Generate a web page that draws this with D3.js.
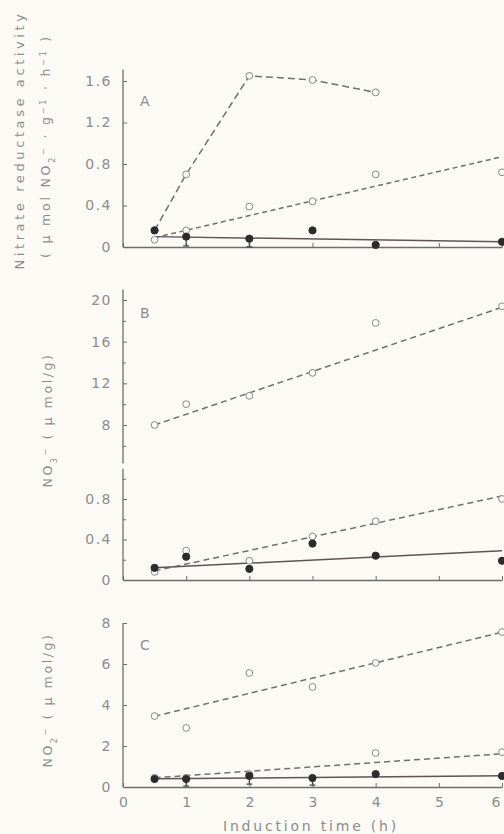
<!DOCTYPE html>
<html>
<head>
<meta charset="utf-8">
<script src="https://cdn.jsdelivr.net/npm/d3@7"></script>
<style>
  html, body { margin: 0; padding: 0; background: #fbfaf5; }
  svg { display: block; }
  text { font-family: "DejaVu Sans", sans-serif; fill: #8d8d8d; }
</style>
</head>
<body>
<div id="chart"></div>
<script>
// ---- data ----
var times = [0.5, 1, 2, 3, 4, 6];
var timesPeak = [0.5, 1, 2, 3, 4];
var fitEnds = [0.5, 6];
var xTicks = [0, 1, 2, 3, 4, 5, 6];

// panel A: nitrate reductase activity
var aPeak = [0.16, 0.70, 1.65, 1.61, 1.49];
var aOpen = [0.07, 0.16, 0.39, 0.44, 0.70, 0.72];
var aOpenFit = [0.09, 0.87];
var aFilled = [0.16, 0.10, 0.08, 0.16, 0.02, 0.05];
var aFilledErr = [0, 0.09, 0.08, 0, 0, 0];
var aFilledFit = [0.10, 0.05];
var aTicks = [0, 0.4, 0.8, 1.2, 1.6];

// panel B: NO3- content (broken axis)
var bHigh = [8.0, 10.0, 10.8, 13.0, 17.8, 19.4];
var bHighFit = [8.0, 19.3];
var bOpen = [0.08, 0.29, 0.19, 0.43, 0.58, 0.80];
var bOpenFit = [0.09, 0.83];
var bFilled = [0.12, 0.23, 0.11, 0.36, 0.24, 0.19];
var bFilledFit = [0.12, 0.29];
var bTicksHigh = [8, 12, 16, 20];
var bMinorHigh = [6, 10, 14, 18];
var bTicksLow = [0, 0.4, 0.8];
var bMinorLow = [0.2, 0.6, 1.0];

// panel C: NO2- content
var cHigh = [3.46, 2.88, 5.56, 4.88, 6.05, 7.56];
var cHighFit = [3.45, 7.55];
var cOpen = [0.45, 0.45, 0.62, null, 1.66, 1.70];
var cOpenFit = [0.45, 1.62];
var cFilled = [0.39, 0.39, 0.54, 0.44, 0.63, 0.54];
var cFilledErr = [0, 0.35, 0.4, 0.35, 0, 0];
var cFilledFit = [0.40, 0.55];
var cTicks = [0, 2, 4, 6, 8];

var W = 504, H = 834;
var lineCol = "#707070", solidCol = "#5e5458", axisCol = "#6e6e6e";

var svg = d3.select("#chart").append("svg")
    .attr("width", W).attr("height", H);
svg.append("rect").attr("width", W).attr("height", H).attr("fill", "#fbfaf5");

var x = d3.scaleLinear().domain([0, 6]).range([123, 502]);

var yA = d3.scaleLinear().domain([0, 1.6]).range([247, 81]);
var yBlow = d3.scaleLinear().domain([0, 0.8]).range([580, 499]);
var yBhigh = d3.scaleLinear().domain([8, 20]).range([425, 300]);
var yC = d3.scaleLinear().domain([0, 8]).range([787, 623]);

function zip(xs, ys) {
  return xs.map(function(t, i){ return {t: t, v: ys[i]}; })
           .filter(function(d){ return d.v != null; });
}

var line = function(y) {
  return d3.line().x(function(d){ return x(d.t); }).y(function(d){ return y(d.v); });
};

function drawLine(g, y, xs, ys, dash, col) {
  g.append("path")
    .datum(zip(xs, ys))
    .attr("d", line(y))
    .attr("fill", "none")
    .attr("stroke", col)
    .attr("stroke-width", 1.5)
    .attr("stroke-dasharray", dash);
}

function drawPoints(g, y, xs, ys, filled) {
  g.selectAll(null)
    .data(zip(xs, ys))
    .enter().append("circle")
    .attr("cx", function(d){ return x(d.t); })
    .attr("cy", function(d){ return y(d.v); })
    .attr("r", filled ? 3.6 : 3.4)
    .attr("fill", filled ? "#2e2b2b" : "#fbfaf5")
    .attr("stroke", filled ? "#2e2b2b" : "#8a8a8a")
    .attr("stroke-width", 1);
}

function drawErr(g, y, xs, ys, errs) {
  var d = xs.map(function(t, i){ return {t: t, v: ys[i], e: errs[i]}; })
            .filter(function(d){ return d.e > 0; });
  g.selectAll(null).data(d).enter().append("path")
    .attr("d", function(d){
      var cx = x(d.t), y0 = y(d.v), y1 = y(d.v - d.e);
      return "M" + cx + "," + y0 + "V" + y1 + "M" + (cx - 3) + "," + y1 + "H" + (cx + 3);
    })
    .attr("stroke", "#4a4a4a").attr("stroke-width", 1.3).attr("fill", "none");
}

function yAxis(g, y, major, minor, fmt, top, bottom) {
  var ax = g.append("g").attr("transform", "translate(" + x(0) + ",0)")
    .call(d3.axisLeft(y).tickValues(major).tickSize(-4).tickPadding(11).tickFormat(fmt));
  ax.select(".domain").remove();
  ax.selectAll("line").attr("stroke", axisCol);
  ax.selectAll("text")
    .style("font-size", "14px").style("letter-spacing", "1.5px")
    .attr("fill", "#8d8d8d");
  if (minor) {
    var mx = g.append("g").attr("transform", "translate(" + x(0) + ",0)")
      .call(d3.axisLeft(y).tickValues(minor).tickSize(-3).tickFormat(""));
    mx.select(".domain").remove();
    mx.selectAll("line").attr("stroke", axisCol);
  }
  g.append("line")
    .attr("x1", x(0)).attr("x2", x(0))
    .attr("y1", y(top)).attr("y2", y(bottom))
    .attr("stroke", axisCol).attr("stroke-width", 1.3);
}

function xAxis(g, y0, labels) {
  var ax = g.append("g").attr("transform", "translate(0," + y0 + ")")
    .call(d3.axisBottom(x).tickValues(xTicks).tickSize(-4).tickSizeOuter(0)
      .tickPadding(10).tickFormat(labels ? d3.format("d") : ""));
  ax.select(".domain").attr("stroke", axisCol).attr("stroke-width", 1.3);
  ax.selectAll("line").attr("stroke", axisCol);
  ax.selectAll("text").style("font-size", "14px").attr("fill", "#999");
  // keep the last label inside the frame
  ax.selectAll(".tick text").filter(function(d){ return d === 6; })
    .attr("text-anchor", "end").attr("dx", "-2");
}

function panelLabel(g, y, v, s) {
  g.append("text").attr("x", x(0.27)).attr("y", y(v))
    .style("font-size", "14px").text(s);
}

// ---- panel A ----
var gA = svg.append("g");
yAxis(gA, yA, aTicks, null, function(d){ return d === 0 ? "0" : d3.format(".1f")(d); }, 1.71, 0);
xAxis(gA, yA(0), false);
panelLabel(gA, yA, 1.36, "A");
drawLine(gA, yA, timesPeak, aPeak, "7,4", lineCol);
drawLine(gA, yA, fitEnds, aOpenFit, "5,3.5", lineCol);
drawLine(gA, yA, fitEnds, aFilledFit, null, solidCol);
drawErr(gA, yA, times, aFilled, aFilledErr);
drawPoints(gA, yA, timesPeak, aPeak, false);
drawPoints(gA, yA, times, aOpen, false);
drawPoints(gA, yA, times, aFilled, true);

// ---- panel B ----
var gB = svg.append("g");
yAxis(gB, yBhigh, bTicksHigh, bMinorHigh, d3.format("d"), 21, 4.3);
yAxis(gB, yBlow, bTicksLow, bMinorLow, function(d){ return d === 0 ? "0" : d3.format(".1f")(d); }, 1.1, 0);
xAxis(gB, yBlow(0), false);
panelLabel(gB, yBhigh, 18.3, "B");
drawLine(gB, yBhigh, fitEnds, bHighFit, "6,4", lineCol);
drawLine(gB, yBlow, fitEnds, bOpenFit, "6,4", lineCol);
drawLine(gB, yBlow, fitEnds, bFilledFit, null, solidCol);
drawPoints(gB, yBhigh, times, bHigh, false);
drawPoints(gB, yBlow, times, bOpen, false);
drawPoints(gB, yBlow, times, bFilled, true);

// ---- panel C ----
var gC = svg.append("g");
yAxis(gC, yC, cTicks, null, d3.format("d"), 8, 0);
xAxis(gC, yC(0), true);
panelLabel(gC, yC, 6.7, "C");
drawLine(gC, yC, fitEnds, cHighFit, "6,4", lineCol);
drawLine(gC, yC, fitEnds, cOpenFit, "6,4", lineCol);
drawLine(gC, yC, fitEnds, cFilledFit, null, solidCol);
drawErr(gC, yC, times, cFilled, cFilledErr);
drawPoints(gC, yC, times, cHigh, false);
drawPoints(gC, yC, times, cOpen, false);
drawPoints(gC, yC, times, cFilled, true);

// ---- axis titles ----
function vTitle(cx, cy, size, spacing, build) {
  var t = svg.append("text")
    .attr("transform", "translate(" + cx + "," + cy + ")rotate(-90)")
    .attr("text-anchor", "middle")
    .style("font-size", size + "px")
    .style("letter-spacing", spacing + "px");
  build(t);
}
function sup(t, s) { t.append("tspan").attr("baseline-shift", "super").style("font-size", "8px").text(s); }
function sub(t, s) { t.append("tspan").attr("baseline-shift", "sub").style("font-size", "8px").text(s); }

vTitle(24, 140, 13, 3.6, function(t){ t.text("Nitrate  reductase  activity"); });
vTitle(50, 146, 12.5, 2.8, function(t){
  t.append("tspan").text("( μ mol  NO");
  sub(t, "2");
  sup(t, "−");
  t.append("tspan").text(" · g");
  sup(t, "−1");
  t.append("tspan").text(" · h");
  sup(t, "−1");
  t.append("tspan").text(" )");
});
vTitle(52, 420, 12.5, 2.6, function(t){
  t.append("tspan").text("NO");
  sub(t, "3");
  sup(t, "−");
  t.append("tspan").text("  ( μ mol/g)");
});
vTitle(52, 700, 12.5, 2.6, function(t){
  t.append("tspan").text("NO");
  sub(t, "2");
  sup(t, "−");
  t.append("tspan").text("  ( μ mol/g)");
});

svg.append("text")
  .attr("x", 311).attr("y", 831)
  .attr("text-anchor", "middle")
  .style("font-size", "14px").style("letter-spacing", "2.8px")
  .text("Induction  time  (h)");
</script>
</body>
</html>
